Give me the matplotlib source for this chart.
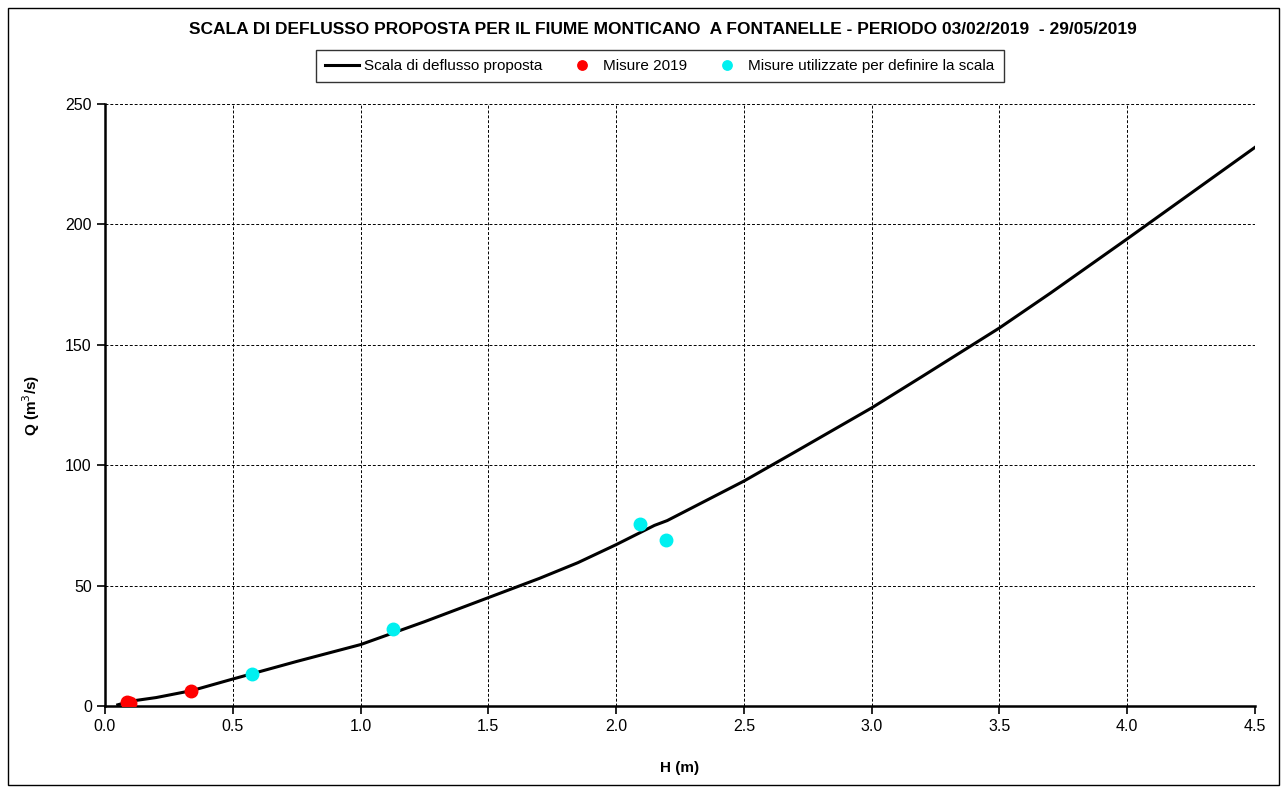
import matplotlib
matplotlib.use("Agg")
import matplotlib.pyplot as plt
from matplotlib.patches import Rectangle

plt.rcParams['font.family'] = ['Liberation Sans', 'DejaVu Sans']

# rating curve
scala_h = [0.05, 0.10, 0.20, 0.34, 0.50, 0.75, 1.00, 1.25, 1.50, 1.70, 1.85,
           2.00, 2.15, 2.20, 2.50, 2.70, 3.00, 3.20, 3.50, 3.70, 4.00, 4.50]
scala_q = [0.5, 2.0, 3.5, 6.4, 11.2, 18.5, 25.5, 35.0, 45.0, 53.0, 59.5,
           67.0, 75.0, 77.0, 93.4, 105.5, 123.8, 137.0, 157.0, 171.5, 194.0, 232.0]

# measurements 2019
mis2019_h = [0.085, 0.098, 0.337]
mis2019_q = [1.8, 1.2, 6.2]

# measurements used for the rating curve
misscala_h = [0.574, 1.127, 2.093, 2.195]
misscala_q = [13.2, 32.0, 75.6, 69.0]

fig = plt.figure(figsize=(12.87, 7.91), dpi=100)
ax = fig.add_axes([105 / 1287, 1 - 706 / 791, 1150 / 1287, 602 / 791])

# outer frame
fig.patches.append(Rectangle((8 / 1287, 6 / 791), 1271 / 1287, 777 / 791,
                             transform=fig.transFigure, fill=False,
                             edgecolor='black', linewidth=1.0))

ax.plot(scala_h, scala_q, color='black', linewidth=2.2, label='Scala di deflusso proposta', zorder=3)
ax.plot(mis2019_h, mis2019_q, 'o', color='#ff0000', markersize=9, label='Misure 2019', zorder=4)
ax.plot(misscala_h, misscala_q, 'o', color='#00f0f0', markersize=9,
        label='Misure utilizzate per definire la scala', zorder=4)

ax.set_xlim(0, 4.5)
ax.set_ylim(0, 250)
ax.set_xticks([i * 0.5 for i in range(10)])
ax.set_xticklabels([f'{i * 0.5:.1f}' for i in range(10)])
ax.set_yticks(range(0, 251, 50))
ax.grid(True, color='black', linestyle=(0, (3, 2)), linewidth=0.7)
ax.spines['top'].set_visible(False)
ax.spines['right'].set_visible(False)
ax.spines['left'].set_linewidth(1.8)
ax.spines['bottom'].set_linewidth(1.8)
ax.tick_params(direction='out', length=6, width=1.2, labelsize=11.5)

ax.set_xlabel('H (m)', fontsize=11, fontweight='bold', labelpad=19)
ax.set_ylabel('Q (m$^3$/s)', fontsize=11, fontweight='bold', labelpad=17)

fig.text(663 / 1287, 1 - 29 / 791,
         'SCALA DI DEFLUSSO PROPOSTA PER IL FIUME MONTICANO  A FONTANELLE - PERIODO 03/02/2019  - 29/05/2019',
         ha='center', va='center', fontsize=12.5, fontweight='bold')

leg = fig.legend(loc='center', bbox_to_anchor=(660 / 1287, 1 - 66 / 791), ncol=3,
                 fontsize=11, frameon=True, fancybox=False, edgecolor='black',
                 handlelength=2.2, handletextpad=0.3, columnspacing=1.5,
                 markerscale=0.75, borderpad=0.6)
leg.get_frame().set_linewidth(1.0)

fig.savefig('out.png', dpi=100)
